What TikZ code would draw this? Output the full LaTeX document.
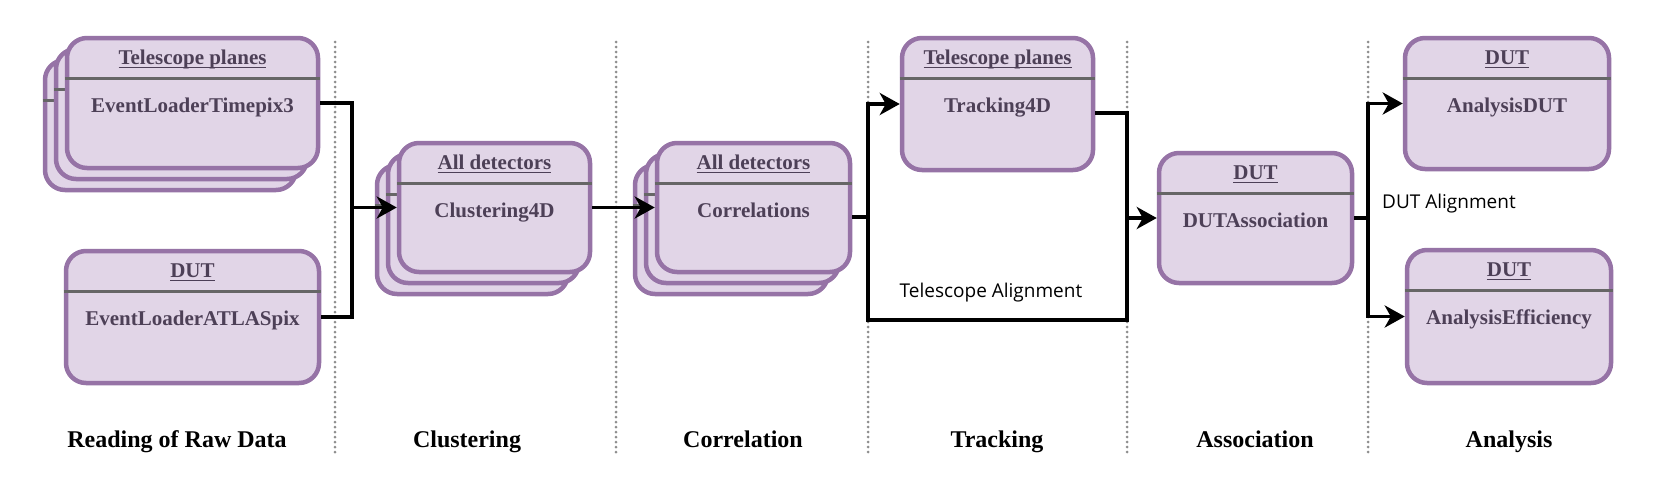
\documentclass[tikz,border=0pt]{standalone}
\usepackage{fontspec}
\setmainfont{Liberation Serif}
\newfontfamily\lblfont{Open Sans}
\usetikzlibrary{arrows.meta,fit,calc}
\definecolor{boxfill}{HTML}{E1D5E7}
\definecolor{boxdraw}{HTML}{9673A6}
\definecolor{boxtext}{HTML}{4D4057}
\definecolor{sepgray}{HTML}{666666}
\definecolor{divgray}{HTML}{8E8E8E}
\newcommand{\myul}[1]{\setbox0\hbox{#1}\rlap{\rule[-3.5pt]{\wd0}{1.4pt}}\box0}
\newcommand{\mkshell}[5]{%
  \node[umlbox, fit={(#2,#3) (#4,#5)}] (#1) {};
  \draw[sepline] ([yshift=-43pt]#1.north west) -- ([yshift=-43pt]#1.north east);}
\newcommand{\mkbox}[7]{%
  \mkshell{#1}{#2}{#3}{#4}{#5}%
  \node[boxlabel] (#1-t) at ([yshift=-29pt]#1.north) {\myul{#6}};
  \node[boxlabel] (#1-b) at ([yshift=-77pt]#1.north) {#7};}
\tikzset{
  umlbox/.style={draw=boxdraw, fill=boxfill, line width=4.5pt, rounded corners=20pt, inner sep=0pt},
  sepline/.style={draw=sepgray, line width=3pt},
  boxlabel/.style={anchor=base, text=boxtext, font=\fontsize{21}{25}\selectfont\bfseries, inner sep=0pt},
  phase/.style={anchor=base, font=\fontsize{24}{28}\selectfont\bfseries, inner sep=0pt},
  note/.style={inner sep=0pt, font=\lblfont\fontsize{19}{23}\selectfont},
  divider/.style={draw=divgray, line width=3pt, line cap=round, dash pattern=on 0pt off 5pt},
  conn/.style={draw=black, line width=3.5pt},
  arr/.style={conn, -{Stealth[length=20pt,width=22pt,inset=6pt]}}
}
\begin{document}
\begin{tikzpicture}[x=1pt,y=-1pt]
\useasboundingbox[fill=white] (0,0) rectangle (1654,488);
% dividers
\foreach \xx in {335,616,868,1127,1368}{
  \draw[divider] (\xx,42) -- (\xx,453);
}
% boxes
\mkshell{tpx-s2}{45}{60}{296}{190}
\mkshell{tpx-s1}{56}{49}{307}{179}
\mkbox{tpx}{67}{38}{318}{168}{Telescope planes}{EventLoaderTimepix3}
\mkbox{atl}{66}{251}{319}{383}{DUT}{EventLoaderATLASpix}
\mkshell{clu-s2}{377}{165}{568}{294}
\mkshell{clu-s1}{388}{154}{579}{283}
\mkbox{clu}{399}{143}{590}{272}{All detectors}{Clustering4D}
\mkshell{cor-s2}{635}{165}{828}{294}
\mkshell{cor-s1}{646}{154}{839}{283}
\mkbox{cor}{657}{143}{850}{272}{All detectors}{Correlations}
\mkbox{trk}{902}{38}{1093}{170}{Telescope planes}{Tracking4D}
\mkbox{dut}{1159}{153}{1352}{283}{DUT}{DUTAssociation}
\mkbox{adut}{1405}{38}{1609}{169}{DUT}{AnalysisDUT}
\mkbox{aeff}{1407}{250}{1611}{383}{DUT}{AnalysisEfficiency}
% junction coordinates
\coordinate (j1) at (352,207.5);
\coordinate (j2) at (868,217);
\coordinate (tout) at (1127,113);
\coordinate (bl) at (868,320);
\coordinate (br) at (1127,320);
\coordinate (j3) at (1127,218);
\coordinate (j4) at (1368,218);
% connectors
\draw[conn] (tpx.east) -| (j1);
\draw[conn] (atl.east) -| (j1);
\draw[arr] (j1) -- (clu.west);
\draw[arr] (clu.east) -- (cor.west);
\draw[conn] (cor.east |- j2) -- (j2);
\draw[arr] (j2) |- (trk.west);
\draw[conn] (trk.east |- tout) -- (tout) -- (br) -- (bl) -- (j2);
\draw[arr] (j3) -- (dut.west);
\draw[conn] (dut.east) -- (j4);
\draw[arr] (j4) |- (adut.west);
\draw[arr] (j4) |- (aeff.west);
% notes
\node[note, anchor=base] (talign) at (991,297) {Telescope Alignment};
\node[note, anchor=base west] (dalign) at (1382,208) {DUT Alignment};
% phase labels
\node[phase] (p1) at (177,447) {Reading of Raw Data};
\node[phase] (p2) at (467,447) {Clustering};
\node[phase] (p3) at (743,447) {Correlation};
\node[phase] (p4) at (997,447) {Tracking};
\node[phase] (p5) at (1255,447) {Association};
\node[phase] (p6) at (1509,447) {Analysis};
\end{tikzpicture}
\end{document}
